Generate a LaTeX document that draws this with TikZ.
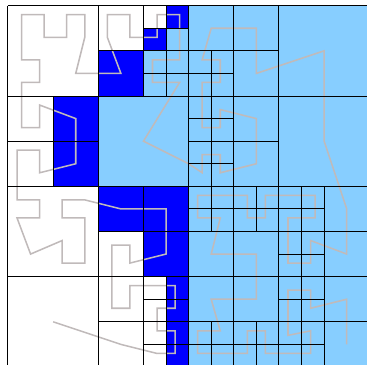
\documentclass[tikz,border=0pt]{standalone}
\definecolor{cellblue}{RGB}{0,0,255}
\definecolor{cellsky}{RGB}{135,206,255}
\definecolor{curvegray}{RGB}{192,186,186}
\begin{document}
\begin{tikzpicture}[
    x=16.935pt, y=-16.935pt,
    hit/.style={fill=cellblue},
    miss/.style={fill=cellsky},
    cellline/.style={draw=black, line width=0.75pt},
    sfc/.style={draw=curvegray, line width=1.15pt, line join=miter},
]
\useasboundingbox (-0.354,-0.252) rectangle (15.899,15.912);
\clip (-0.354,-0.252) rectangle (15.899,15.912);

% Filled cells
\foreach \xa/\ya/\xb/\yb in {7/0/8/1, 6/1/7/2, 4/2/6/4, 2/4/4/8, 4/8/8/10, 6/10/8/12, 7/12/8/16}
    \fill[hit] (\xa,\ya) rectangle (\xb,\yb);
\foreach \xa/\ya/\xb/\yb in {7/1/8/2, 6/2/8/4, 4/4/8/8, 8/0/16/16}
    \fill[miss] (\xa,\ya) rectangle (\xb,\yb);

% Curve through the cells
\draw[sfc] (2,14) -- (5,15) -- (6.6,15.4) -- (7.4,15.4) -- (7.4,14.4) -- (6.6,14.4)
    -- (6.6,13.4) -- (7.4,13.4) -- (7.4,12.4) -- (5.4,12.4) -- (5.4,13.4) -- (4.6,13.4)
    -- (4.6,10.6) -- (5.4,10.6) -- (5.4,11.4) -- (7,11) -- (7,9) -- (5,9) -- (3.4,8.6)
    -- (2.4,8.6) -- (2.4,9.4) -- (3.4,9.4) -- (3.4,11.4) -- (2.4,11.4) -- (2.4,10.4)
    -- (1,11) -- (0.4,9.4) -- (1.4,9.4) -- (1.4,8.6) -- (0.4,8.6) -- (0.4,6.4)
    -- (1.4,6.4) -- (1.4,7.4) -- (3,7) -- (3,5) -- (1.4,4.4) -- (1.4,5.4) -- (0.6,5.4)
    -- (0.6,3.4) -- (1.4,3.4) -- (1.4,2.4) -- (0.6,2.4) -- (0.6,0.4) -- (1.6,0.4)
    -- (1.6,1.4) -- (2.6,1.4) -- (2.6,0.4) -- (3.4,0.4) -- (3.4,1.4) -- (3,3) -- (5,3)
    -- (4.4,1.4) -- (4.4,0.4) -- (5.4,0.4) -- (5.4,1.4) -- (6.6,1.4) -- (6.6,0.4)
    -- (7.6,0.4) -- (7.6,2.4) -- (6.4,2.4) -- (6.4,3.4) -- (7.6,3.4) -- (6,6) -- (8,7)
    -- (8.6,7.4) -- (8.6,6.6) -- (9.4,6.6) -- (9.4,7.4) -- (11,7) -- (11,5) -- (9.4,4.6)
    -- (9.4,5.4) -- (8.6,5.4) -- (8.6,3.4) -- (9.4,3.4) -- (9.4,2.4) -- (8.6,2.4)
    -- (9,1) -- (11,1) -- (11,3) -- (14,2) -- (14,6) -- (15,9) -- (15,11) -- (13.4,10.4)
    -- (13.4,11.4) -- (12.4,11.4) -- (12.4,9.4) -- (13.6,9.4) -- (13.6,8.4) -- (11.4,8.4)
    -- (11.4,9.4) -- (10.6,9.4) -- (10.6,8.4) -- (8.4,8.4) -- (8.4,9.4) -- (9.4,9.4)
    -- (9,11) -- (11,11) -- (11,13) -- (9,13) -- (9.4,14.4) -- (8.4,14.4) -- (8.4,15.4)
    -- (10.6,15.4) -- (10.6,14.4) -- (11.4,14.4) -- (11.4,15.4) -- (13.4,15.4)
    -- (13.4,14.4) -- (12.4,14.6) -- (12.4,12.6) -- (13.4,12.6) -- (13.4,13.4) -- (15,13)
    -- (15,15);

% Vertical cell lines
\foreach \xx/\ya/\yb in {0/0/16, 4/0/16, 8/0/16, 12/0/16, 16/0/16,
    2/4/8, 6/0/4, 7/0/4, 6/8/16, 7/12/16,
    10/0/16, 9/2/10, 9/14/16, 11/8/10, 11/14/16,
    13/8/16, 14/8/16}
    \draw[cellline] (\xx,\ya) -- (\xx,\yb);

% Horizontal cell lines
\foreach \yy/\xa/\xb in {0/0/16, 4/0/16, 8/0/16, 12/0/16, 16/0/16,
    6/0/4, 2/4/12, 1/6/8, 3/6/10, 6/8/12, 5/8/10, 7/8/10,
    10/4/16, 14/4/16, 9/8/14, 11/12/14, 13/6/8, 13/12/14, 15/6/14}
    \draw[cellline] (\xa,\yy) -- (\xb,\yy);
\end{tikzpicture}
\end{document}
